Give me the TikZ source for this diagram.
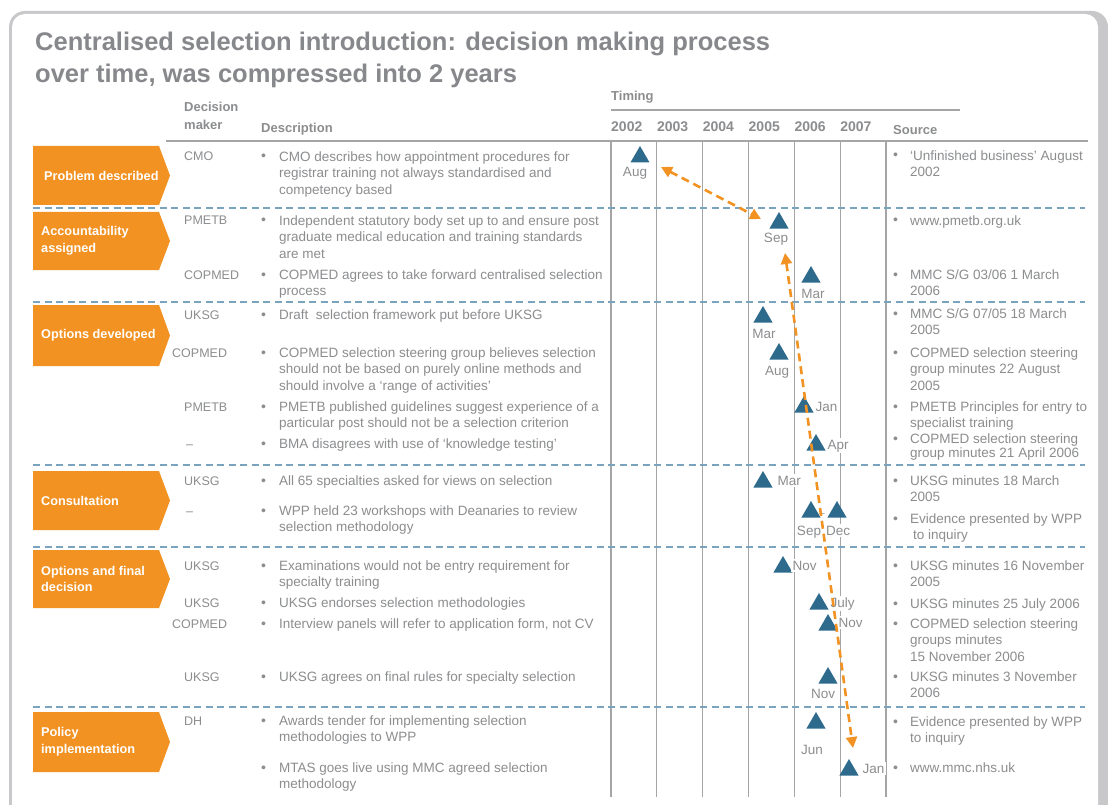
\documentclass[tikz,border=0pt]{standalone}
\usepackage{fontspec}
\setmainfont{Liberation Sans}
\usetikzlibrary{shapes.geometric, arrows.meta}
\definecolor{txtgray}{RGB}{140,141,143}
\definecolor{titlegray}{RGB}{135,136,139}
\definecolor{stageorange}{RGB}{242,146,34}
\definecolor{triblue}{RGB}{46,106,140}
\definecolor{sepblue}{RGB}{122,163,189}
\definecolor{gridgray}{RGB}{165,165,165}
\definecolor{framegray}{RGB}{200,200,202}

% orange stage marker: name, text x, top, bottom, text
\newcommand{\stage}[5]{%
  \fill[stageorange] (33,#3) -- (159,#3) -- (170,{(#3+#4)/2}) -- (159,#4) -- (33,#4) -- cycle;
  \node[stagetext] (#1) at (#2,{(#3+#4)/2}) {#5};}
% bulleted description and source entries: name, first baseline, text
\newcommand{\firstln}{\rule{0pt}{11pt}}
\newcommand{\descitem}[3]{%
  \node[bul] (#1b) at (261,#2) {\textbullet};
  \node[txt] (#1) at (279,{#2-11}) {\firstln#3};}
\newcommand{\srcitem}[3]{%
  \node[bul] (#1b) at (893,#2) {\textbullet};
  \node[txt] (#1) at (910,{#2-11}) {\firstln#3};}

\begin{document}
\begin{tikzpicture}[x=1pt, y=-1pt,
  txt/.style={anchor=north west, inner sep=0pt, text=txtgray, align=left,
    font=\fontsize{13.5}{16.7}\selectfont},
  dm/.style={anchor=base west, inner sep=0pt, text=txtgray,
    font=\fontsize{12.5}{16.7}\selectfont},
  bul/.style={anchor=base west, inner sep=0pt, text=txtgray,
    font=\fontsize{14}{14}\selectfont},
  hdr/.style={anchor=base west, inner sep=0pt, text=txtgray, align=left,
    font=\fontsize{13}{18}\selectfont\bfseries},
  yr/.style={hdr, font=\fontsize{14}{16}\selectfont\bfseries},
  title/.style={anchor=north west, inner sep=0pt, text=titlegray, align=left,
    font=\fontsize{25.5}{32}\selectfont\bfseries},
  stagetext/.style={anchor=west, inner sep=0pt, text=white, align=left,
    font=\fontsize{12.7}{16.7}\selectfont\bfseries},
  tri/.style={regular polygon, regular polygon sides=3, fill=triblue,
    inner sep=0pt, minimum size=22pt},
  mon/.style={anchor=base, inner sep=1.5pt, fill=white, text=txtgray,
    font=\fontsize{13.5}{16}\selectfont},
  monr/.style={mon, anchor=base west},
  stagesep/.style={sepblue, line width=2pt, dash pattern=on 7pt off 4.5pt},
  gridline/.style={gridgray, line width=1.3pt},
  headrule/.style={gridgray, line width=2.2pt},
  timeline/.style={stageorange, line width=2.6pt, dash pattern=on 8pt off 5pt,
    {Triangle[length=11pt,width=11pt]}-{Triangle[length=11pt,width=11pt]}}
]
\useasboundingbox (0,0) rectangle (1108,805);
% frame
\fill[framegray, rounded corners=16pt] (9,11) rectangle (1108,860);
\fill[white, rounded corners=13pt] (12,14) rectangle (1098,860);

% title and column heads
\node[title] (ttl) at (35,30) {\rule{0pt}{20pt}Centralised selection introduction: decision making process\\over time, was compressed into 2 years};
\node[hdr] (hmaker) at (184,130) {Decision\\maker};
\node[hdr] (hdesc) at (261,133) {Description};
\node[hdr] (htiming) at (611,101) {Timing};
\node[hdr] (hsource) at (893,135) {Source};
\draw[headrule] (611,110) -- (960,110);
\foreach \yy [count=\i from 0] in {2002,2003,2004,2005,2006,2007}
  \node[yr] (y\yy) at (611+45.83*\i,132) {\yy};
\draw[headrule] (166,141) -- (1088,141);

% grid
\foreach \i in {0,...,6}
  \draw[gridline] (611+45.83*\i,142) -- (611+45.83*\i,797);
\foreach \y in {208,302,465,547,707}
  \draw[stagesep] (33,\y) -- (1085,\y);

% stages
\stage{p1}{44}{146}{205}{Problem described}
\stage{p2}{41}{212}{270}{Accountability\\assigned}
\stage{p3}{41}{305}{366}{Options developed}
\stage{p4}{41}{471}{530}{Consultation}
\stage{p5}{41}{550}{608}{Options and final\\decision}
\stage{p6}{41}{712}{772}{Policy\\implementation}

% decision makers
\node[dm] (m1) at (184,161) {CMO};
\node[dm] (m2) at (184,225) {PMETB};
\node[dm] (m3) at (184,279) {COPMED};
\node[dm] (m4) at (184,319) {UKSG};
\node[dm] (m5) at (172,357) {COPMED};
\node[dm] (m6) at (184,411) {PMETB};
\node[dm] (m7) at (186,448) {–};
\node[dm] (m8) at (184,485) {UKSG};
\node[dm] (m9) at (186,515) {–};
\node[dm] (m10) at (184,570) {UKSG};
\node[dm] (m11) at (184,607) {UKSG};
\node[dm] (m12) at (172,628) {COPMED};
\node[dm] (m13) at (184,681) {UKSG};
\node[dm] (m14) at (184,725) {DH};

% descriptions
\descitem{d1}{161}{CMO describes how appointment procedures for\\registrar training not always standardised and\\competency based}
\descitem{d2}{225}{Independent statutory body set up to and ensure post\\graduate medical education and training standards\\are met}
\descitem{d3}{279}{COPMED agrees to take forward centralised selection\\process}
\descitem{d4}{319}{Draft~ selection framework put before UKSG}
\descitem{d5}{357}{COPMED selection steering group believes selection\\should not be based on purely online methods and\\should involve a ‘range of activities’}
\descitem{d6}{411}{PMETB published guidelines suggest experience of a\\particular post should not be a selection criterion}
\descitem{d7}{448}{BMA disagrees with use of ‘knowledge testing’}
\descitem{d8}{485}{All 65 specialties asked for views on selection}
\descitem{d9}{515}{WPP held 23 workshops with Deanaries to review\\selection methodology}
\descitem{d10}{570}{Examinations would not be entry requirement for\\specialty training}
\descitem{d11}{607}{UKSG endorses selection methodologies}
\descitem{d12}{628}{Interview panels will refer to application form, not CV}
\descitem{d13}{681}{UKSG agrees on final rules for specialty selection}
\descitem{d14}{725}{Awards tender for implementing selection\\methodologies to WPP}
\descitem{d15}{772}{MTAS goes live using MMC agreed selection\\methodology}

% sources
\srcitem{s1}{160}{‘Unfinished business’ August\\2002}
\srcitem{s2}{225}{www.pmetb.org.uk}
\srcitem{s3}{279}{MMC S/G 03/06 1 March\\2006}
\srcitem{s4}{318}{MMC S/G 07/05 18 March\\2005}
\srcitem{s5}{357}{COPMED selection steering\\group minutes 22 August\\2005}
\srcitem{s6}{411}{PMETB Principles for entry to\\specialist training}
\srcitem{s7}{443}{COPMED selection steering\\[-2.7pt]group minutes 21 April 2006}
\srcitem{s8}{485}{UKSG minutes 18 March\\2005}
\srcitem{s9}{523}{Evidence presented by WPP\\\hspace{3pt}to inquiry}
\srcitem{s10}{570}{UKSG minutes 16 November\\2005}
\srcitem{s11}{608}{UKSG minutes 25 July 2006}
\srcitem{s12}{628}{COPMED selection steering\\groups minutes\\15 November 2006}
\srcitem{s13}{681}{UKSG minutes 3 November\\2006}
\srcitem{s14}{726}{Evidence presented by WPP\\to inquiry}
\srcitem{s15}{772}{www.mmc.nhs.uk}

% timing marks
\node[tri] (t1) at (640,157) {};
\node[tri] (t2) at (779,223) {};
\node[tri] (t3) at (811,277) {};
\node[tri] (t4) at (763,317) {};
\node[tri] (t5) at (779,354) {};
\node[tri] (t6) at (804,407) {};
\node[tri] (t7) at (816,445) {};
\node[tri] (t8) at (763,482) {};
\node[tri] (t9) at (811,512) {};
\node[tri] (t10) at (837,512) {};
\node[tri] (t11) at (783,567) {};
\node[tri] (t12) at (819,604) {};
\node[tri] (t13) at (828,625) {};
\node[tri] (t14) at (828,678) {};
\node[tri] (t15) at (816,723) {};
\node[tri] (t16) at (849,770) {};

% month labels
\node[mon] (l1) at (635,177) {Aug};
\node[mon] (l2) at (776,243) {Sep};
\node[mon] (l3) at (813,298) {Mar};
\node[mon] (l4) at (764,338) {Mar};
\node[mon] (l5) at (777,375) {Aug};
\node[monr] (l6) at (814,411) {Jan};
\node[monr] (l7) at (826,449) {Apr};
\node[monr] (l8) at (776,485) {Mar};
\node[mon] (l9) at (809,535) {Sep};
\node[mon] (l10) at (838,535) {Dec};
\node[monr] (l11) at (791,570) {Nov};
\node[monr] (l12) at (829,607) {July};
\node[monr] (l13) at (837,627) {Nov};
\node[mon] (l14) at (823,698) {Nov};
\node[mon] (l15) at (812,754) {Jun};
\node[monr] (l16) at (861,773) {Jan};
\node[dm, font=\fontsize{10}{12}\selectfont] (sepdec) at (819,516) {–};

% sequence arrows
\coordinate (a1s) at (661,167);
\coordinate (a1e) at (761,219);
\coordinate (a2s) at (785,253);
\coordinate (a2e) at (853,748);
\draw[timeline] (a1s) -- (a1e);
\draw[timeline] (a2s) -- (a2e);
\end{tikzpicture}
\end{document}
